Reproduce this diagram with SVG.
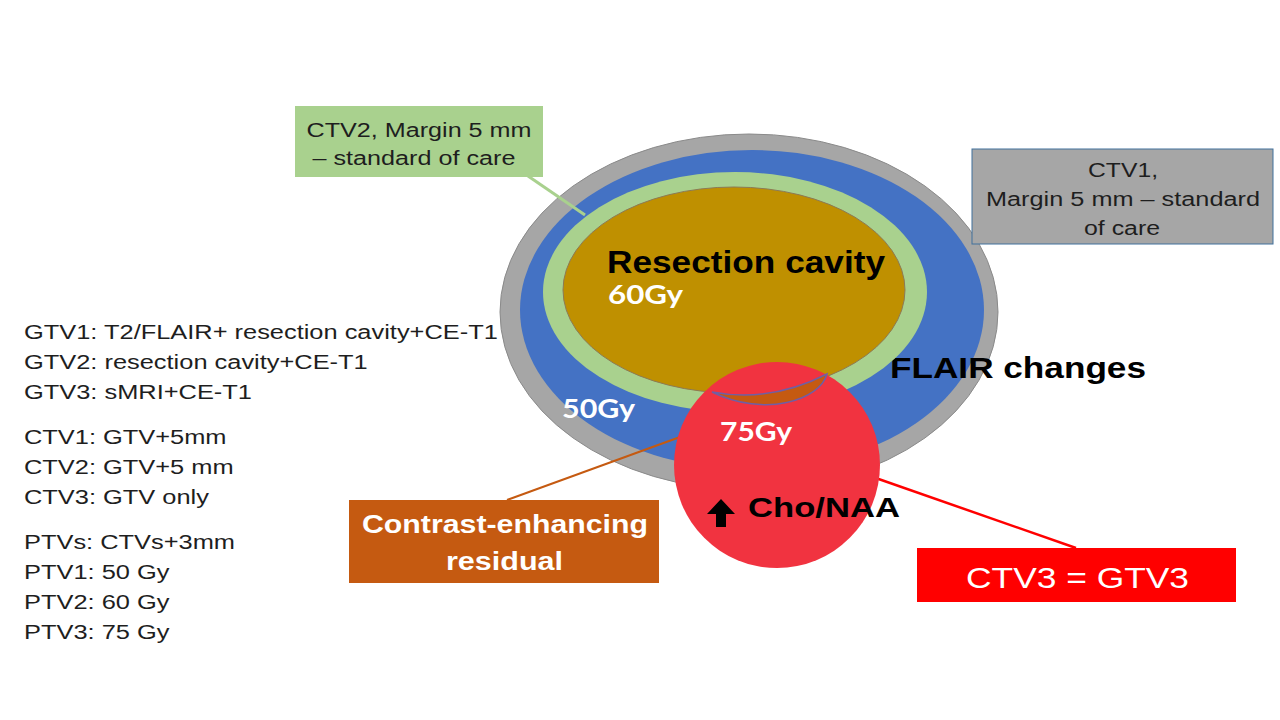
<svg xmlns="http://www.w3.org/2000/svg" width="1280" height="720" viewBox="0 0 1280 720">
<style>
.reg{font-family:"Liberation Sans",Arial,sans-serif;font-weight:normal}
.bold{font-family:"Liberation Sans",Arial,sans-serif;font-weight:bold}
.gy{font-family:Lato,"Liberation Sans",sans-serif;font-weight:bold;fill:#fff}
.dark{fill:#1e1e1e}
.white{fill:#fff}
.conn{fill:none}
</style>
<rect width="1280" height="720" fill="#fff"/>
<g id="ctv1-ring">
  <ellipse cx="749" cy="312" rx="249" ry="178" fill="#A6A6A6" stroke="#8A8A8A" stroke-width="1"/>
</g>
<g id="flair-changes">
  <ellipse cx="752" cy="310" rx="232" ry="160" fill="#4472C4"/>
  <text class="bold" x="890" y="378" font-size="30" textLength="256" lengthAdjust="spacingAndGlyphs" fill="#000">FLAIR changes</text>
  <text class="gy" x="562" y="418" font-size="27" textLength="73" lengthAdjust="spacingAndGlyphs">50Gy</text>
</g>
<g id="ctv2-ring">
  <ellipse cx="735" cy="292" rx="192" ry="120" fill="#A9D18E"/>
</g>
<g id="resection-cavity">
  <ellipse cx="734" cy="290" rx="171" ry="103" fill="#BF9000" stroke="#8C7A55" stroke-width="1"/>
  <text class="bold" x="607" y="273" font-size="32" textLength="278" lengthAdjust="spacingAndGlyphs" fill="#000">Resection cavity</text>
  <text class="gy" x="608" y="304" font-size="27" textLength="75" lengthAdjust="spacingAndGlyphs">60Gy</text>
</g>
<g id="connectors" class="conn">
  <line x1="528" y1="176" x2="585" y2="215" stroke="#A9D18E" stroke-width="3"/>
  <line x1="507" y1="500" x2="680" y2="437" stroke="#C55A11" stroke-width="2"/>
  <line x1="870" y1="476" x2="1076" y2="548" stroke="#FF0000" stroke-width="2.5"/>
</g>
<g id="ctv3-lesion">
  <circle cx="777" cy="465" r="103" fill="#F13340"/>
  <path d="M712,392 Q770,403 827,374 C820,400 765,418 712,392 Z" fill="#C55A11" stroke="#6F5FA5" stroke-width="1.5"/>
  <text class="gy" x="720" y="441" font-size="27" textLength="72" lengthAdjust="spacingAndGlyphs">75Gy</text>
  <polygon points="721,499 735,514 726,514 726,527 716,527 716,514 707,514" fill="#000"/>
  <text class="bold" x="748" y="517" font-size="28" textLength="152" lengthAdjust="spacingAndGlyphs" fill="#000">Cho/NAA</text>
</g>
<g id="ctv2-label">
  <rect x="295" y="106" width="248" height="71" fill="#A9D18E"/>
  <text class="reg dark" x="419" y="137" font-size="20" text-anchor="middle" textLength="225" lengthAdjust="spacingAndGlyphs">CTV2, Margin 5 mm</text>
  <text class="reg dark" x="414" y="165" font-size="20" text-anchor="middle" textLength="203" lengthAdjust="spacingAndGlyphs">– standard of care</text>
</g>
<g id="ctv1-label">
  <rect x="972" y="149" width="301" height="95" fill="#A6A6A6" stroke="#41719C" stroke-width="1"/>
  <text class="reg dark" x="1123" y="177" font-size="20" text-anchor="middle" textLength="70" lengthAdjust="spacingAndGlyphs">CTV1,</text>
  <text class="reg dark" x="1123" y="206" font-size="20" text-anchor="middle" textLength="274" lengthAdjust="spacingAndGlyphs">Margin 5 mm – standard</text>
  <text class="reg dark" x="1122" y="235" font-size="20" text-anchor="middle" textLength="76" lengthAdjust="spacingAndGlyphs">of care</text>
</g>
<g id="residual-label">
  <rect x="349" y="500" width="310" height="83" fill="#C55A11"/>
  <text class="bold white" x="505" y="533" font-size="25" text-anchor="middle" textLength="286" lengthAdjust="spacingAndGlyphs">Contrast-enhancing</text>
  <text class="bold white" x="504.5" y="570" font-size="25" text-anchor="middle" textLength="117" lengthAdjust="spacingAndGlyphs">residual</text>
</g>
<g id="ctv3-label">
  <rect x="917" y="548" width="319" height="54" fill="#FF0000"/>
  <text class="reg white" x="1077.5" y="588" font-size="30" text-anchor="middle" textLength="223" lengthAdjust="spacingAndGlyphs">CTV3 = GTV3</text>
</g>
<g id="definitions" class="reg dark" font-size="20" transform="scale(1.27,1)">
  <text x="18.9" y="339">GTV1: T2/FLAIR+ resection cavity+CE-T1</text>
  <text x="18.9" y="369">GTV2: resection cavity+CE-T1</text>
  <text x="18.9" y="399">GTV3: sMRI+CE-T1</text>
  <text x="18.9" y="444">CTV1: GTV+5mm</text>
  <text x="18.9" y="474">CTV2: GTV+5 mm</text>
  <text x="18.9" y="504">CTV3: GTV only</text>
  <text x="18.9" y="549">PTVs: CTVs+3mm</text>
  <text x="18.9" y="579">PTV1: 50 Gy</text>
  <text x="18.9" y="609">PTV2: 60 Gy</text>
  <text x="18.9" y="639">PTV3: 75 Gy</text>
</g>
</svg>
